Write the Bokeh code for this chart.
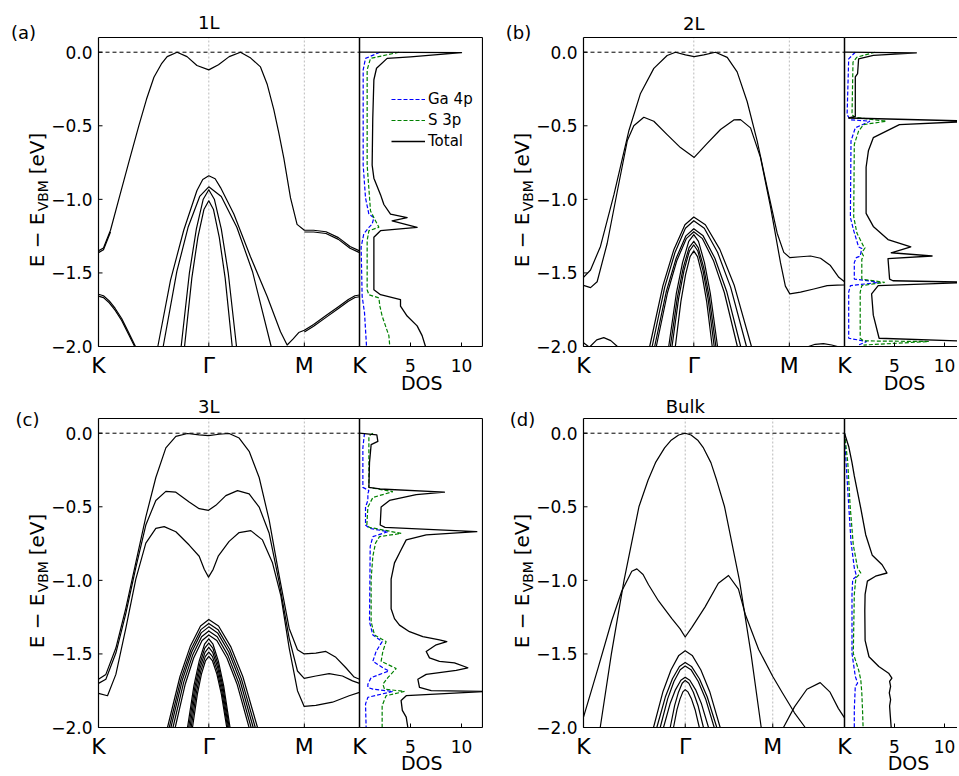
import math
from bokeh.plotting import figure
from bokeh.models import Range1d, Label, Legend, LegendItem
from bokeh.layouts import column, row
from bokeh.embed import file_html
from bokeh.resources import INLINE

FONT = "DejaVu Sans"

# ---------------- axis / label data ----------------
kpath_2d = [0.0, 1.3333, 2.4880, 3.1547]      # K, Gamma, M, K
kpath_bulk = [0.0, 1.2295, 2.2875, 3.1547]
kpath_labels = ["K", "Γ", "M", "K"]
dos_ticks = [5, 10]
energy_ticks = [-2.0, -1.5, -1.0, -0.5, 0.0]
energy_window = [-2.0, 0.1]
panel_tags = ["(a)", "(b)", "(c)", "(d)"]
panel_titles = ["1L", "2L", "3L", "Bulk"]
legend_labels = ["Ga 4p", "S 3p", "Total"]
ylabel_parts = ["E − E", "VBM", "[eV]"]
dos_axis_label = "DOS"

# ---------------- (a) 1L bands  (k, E) ----------------
a_band1 = [(0.000,-1.350),(0.060,-1.330),(0.145,-1.210),(0.250,-0.990),(0.370,-0.740),(0.487,-0.500),
           (0.580,-0.320),(0.670,-0.170),(0.760,-0.080),(0.830,-0.030),(0.950,0.000),(1.070,-0.030),
           (1.190,-0.090),(1.333,-0.120),(1.450,-0.085),(1.580,-0.030),(1.716,0.000),(1.840,-0.040),
           (1.958,-0.100),(2.040,-0.220),(2.119,-0.390),(2.180,-0.550),(2.240,-0.720),(2.321,-0.990),
           (2.400,-1.170),(2.488,-1.210),(2.600,-1.210),(2.750,-1.220),(2.900,-1.260),(3.040,-1.320),
           (3.155,-1.350)]
a_band1b = [(2.488,-1.222),(2.600,-1.222),(2.750,-1.232),(2.900,-1.272),(3.040,-1.332),(3.155,-1.362)]
a_band1c = [(0.000,-1.362),(0.060,-1.342),(0.145,-1.222)]
a_band2 = [(0.000,-1.645),(0.060,-1.655),(0.130,-1.690),(0.200,-1.740),(0.280,-1.810),(0.360,-1.900),
           (0.447,-2.000)]
a_band2b = [(0.000,-1.658),(0.060,-1.668),(0.130,-1.703),(0.200,-1.753),(0.280,-1.823),(0.360,-1.913),
            (0.437,-2.000)]
a_band3 = [(0.717,-2.000),(0.870,-1.550),(1.030,-1.210),(1.190,-0.940),(1.260,-0.865),(1.333,-0.840),
           (1.410,-0.860),(1.475,-0.920),(1.636,-1.100),(1.837,-1.390),(2.039,-1.660),(2.200,-1.900),
           (2.280,-1.990),(2.350,-1.950),(2.420,-1.905),(2.488,-1.890),(2.600,-1.850),(2.750,-1.790),
           (2.900,-1.730),(3.020,-1.680),(3.100,-1.655),(3.155,-1.650)]
a_band3b = [(2.488,-1.902),(2.600,-1.862),(2.750,-1.802),(2.900,-1.742),(3.020,-1.692),(3.100,-1.667),
            (3.155,-1.662)]
a_band4 = [(0.782,-2.000),(0.947,-1.490),(1.085,-1.186),(1.223,-0.980),(1.333,-0.915),(1.484,-0.980),
           (1.672,-1.190),(1.861,-1.490),(2.087,-2.000)]
a_band5 = [(0.999,-2.000),(1.099,-1.499),(1.183,-1.201),(1.266,-0.999),(1.333,-0.935),(1.400,-0.999),
           (1.484,-1.201),(1.568,-1.499),(1.668,-2.000)]
a_band6 = [(1.040,-2.000),(1.128,-1.535),(1.201,-1.258),(1.274,-1.069),(1.333,-1.010),(1.390,-1.069),
           (1.460,-1.258),(1.531,-1.535),(1.616,-2.000)]

# ---------------- (b) 2L bands ----------------
b_band1 = [(0.000,-1.530),(0.085,-1.480),(0.205,-1.320),(0.367,-0.970),(0.550,-0.530),(0.689,-0.280),
           (0.850,-0.110),(1.011,-0.022),(1.112,0.000),(1.233,-0.018),(1.338,-0.030),(1.454,-0.018),
           (1.595,0.000),(1.737,-0.035),(1.857,-0.134),(1.978,-0.335),(2.099,-0.603),(2.220,-0.920),
           (2.341,-1.230),(2.421,-1.360),(2.494,-1.396),(2.623,-1.390),(2.744,-1.385),(2.865,-1.400),
           (2.985,-1.450),(3.086,-1.530),(3.155,-1.560)]
b_band2 = [(0.000,-1.585),(0.085,-1.600),(0.165,-1.560),(0.286,-1.300),(0.407,-0.950),(0.530,-0.600),
           (0.608,-0.500),(0.729,-0.442),(0.850,-0.469),(1.011,-0.560),(1.172,-0.648),(1.338,-0.715),
           (1.495,-0.620),(1.656,-0.525),(1.817,-0.460),(1.898,-0.458),(2.019,-0.514),(2.139,-0.715),
           (2.260,-1.050),(2.381,-1.430),(2.440,-1.590),(2.494,-1.642),(2.623,-1.630),(2.784,-1.609),
           (2.945,-1.586),(3.066,-1.583),(3.155,-1.582)]
b_band3 = [(0.080,-2.000),(0.160,-1.955),(0.245,-1.940),(0.330,-1.960),(0.410,-2.000)]
b_band4 = [(0.000,-1.975),(0.060,-2.000)]
b_band5 = [(2.720,-2.000),(2.800,-1.985),(2.900,-1.980),(3.000,-1.990),(3.070,-2.000)]
b_band6 = [(0.800,-2.0),(0.960,-1.586),(1.093,-1.340),(1.226,-1.173),(1.333,-1.120),(1.473,-1.173),
           (1.648,-1.340),(1.823,-1.586),(2.030,-2.0)]
b_band7 = [(0.830,-2.0),(0.981,-1.598),(1.107,-1.359),(1.232,-1.196),(1.333,-1.145),(1.460,-1.196),
           (1.620,-1.359),(1.779,-1.598),(1.970,-2.0)]
b_band8 = [(0.860,-2.0),(1.002,-1.624),(1.120,-1.400),(1.238,-1.248),(1.333,-1.200),(1.446,-1.248),
           (1.588,-1.400),(1.730,-1.624),(1.900,-2.0)]
b_band9 = [(0.880,-2.0),(1.016,-1.633),(1.129,-1.415),(1.242,-1.267),(1.333,-1.220),(1.438,-1.267),
           (1.570,-1.415),(1.702,-1.633),(1.860,-2.0)]
b_band10 = [(1.030,-2.0),(1.121,-1.643),(1.197,-1.430),(1.272,-1.286),(1.333,-1.240),(1.390,-1.286),
            (1.462,-1.430),(1.534,-1.643),(1.620,-2.0)]
b_band11 = [(1.050,-2.0),(1.135,-1.664),(1.206,-1.464),(1.276,-1.328),(1.333,-1.285),(1.386,-1.328),
            (1.453,-1.464),(1.520,-1.664),(1.600,-2.0)]
b_band12 = [(1.070,-2.0),(1.149,-1.676),(1.215,-1.483),(1.280,-1.351),(1.333,-1.310),(1.382,-1.351),
            (1.444,-1.483),(1.506,-1.676),(1.580,-2.0)]
b_band13 = [(1.110,-2.0),(1.177,-1.695),(1.233,-1.513),(1.288,-1.389),(1.333,-1.350),(1.378,-1.389),
            (1.433,-1.513),(1.489,-1.695),(1.556,-2.0)]

# ---------------- (c) 3L bands ----------------
c_band1 = [(0.000,-1.672),(0.089,-1.639),(0.210,-1.460),(0.330,-1.190),(0.451,-0.880),(0.572,-0.569),
           (0.693,-0.301),(0.814,-0.100),(0.935,-0.022),(1.076,-0.002),(1.217,-0.011),(1.330,-0.016),
           (1.458,-0.007),(1.579,-0.002),(1.700,-0.033),(1.821,-0.123),(1.942,-0.301),(2.063,-0.591),
           (2.184,-0.970),(2.305,-1.327),(2.405,-1.472),(2.486,-1.500),(2.627,-1.494),(2.748,-1.483),
           (2.869,-1.523),(2.990,-1.594),(3.090,-1.657),(3.155,-1.672)]
c_band2 = [(0.000,-1.700),(0.089,-1.672),(0.210,-1.494),(0.330,-1.226),(0.451,-0.914),(0.572,-0.624),
           (0.693,-0.457),(0.814,-0.395),(0.935,-0.401),(1.096,-0.468),(1.217,-0.513),(1.330,-0.524),
           (1.418,-0.490),(1.539,-0.424),(1.680,-0.390),(1.821,-0.412),(1.942,-0.502),(2.063,-0.680),
           (2.184,-1.014),(2.305,-1.394),(2.405,-1.616),(2.486,-1.666),(2.627,-1.650),(2.788,-1.634),
           (2.949,-1.650),(3.070,-1.683),(3.155,-1.700)]
c_band3 = [(0.000,-1.768),(0.109,-1.784),(0.210,-1.639),(0.330,-1.327),(0.451,-0.992),(0.572,-0.747),
           (0.693,-0.647),(0.794,-0.635),(0.935,-0.670),(1.096,-0.760),(1.217,-0.836),(1.278,-0.925),
           (1.330,-0.978),(1.386,-0.925),(1.447,-0.836),(1.579,-0.735),(1.700,-0.675),(1.841,-0.662),
           (1.982,-0.725),(2.103,-0.881),(2.204,-1.104),(2.305,-1.460),(2.405,-1.750),(2.486,-1.857),
           (2.627,-1.850),(2.828,-1.828),(3.030,-1.784),(3.155,-1.761)]
c_band4 = [(0.834,-2.0),(0.984,-1.655),(1.108,-1.450),(1.233,-1.310),(1.333,-1.266),(1.451,-1.310),
           (1.598,-1.450),(1.745,-1.655),(1.922,-2.0)]
c_band5 = [(0.855,-2.0),(0.998,-1.668),(1.118,-1.470),(1.237,-1.335),(1.333,-1.293),(1.445,-1.335),
           (1.586,-1.470),(1.726,-1.668),(1.895,-2.0)]
c_band6 = [(0.875,-2.0),(1.012,-1.679),(1.127,-1.487),(1.241,-1.357),(1.333,-1.316),(1.440,-1.357),
           (1.575,-1.487),(1.709,-1.679),(1.870,-2.0)]
c_band7 = [(0.900,-2.0),(1.030,-1.692),(1.138,-1.508),(1.246,-1.383),(1.333,-1.344),(1.435,-1.383),
           (1.563,-1.508),(1.691,-1.692),(1.845,-2.0)]
c_band8 = [(0.927,-2.0),(1.049,-1.704),(1.150,-1.528),(1.252,-1.409),(1.333,-1.371),(1.430,-1.409),
           (1.552,-1.528),(1.674,-1.704),(1.820,-2.0)]
c_band9 = [(1.076,-2.0),(1.153,-1.717),(1.217,-1.549),(1.282,-1.434),(1.333,-1.398),(1.384,-1.434),
           (1.449,-1.549),(1.513,-1.717),(1.590,-2.0)]
c_band10 = [(1.090,-2.0),(1.163,-1.731),(1.224,-1.570),(1.284,-1.461),(1.333,-1.427),(1.382,-1.461),
            (1.444,-1.570),(1.506,-1.731),(1.580,-2.0)]
c_band11 = [(1.105,-2.0),(1.173,-1.744),(1.230,-1.592),(1.287,-1.489),(1.333,-1.456),(1.380,-1.489),
            (1.440,-1.592),(1.499,-1.744),(1.570,-2.0)]
c_band12 = [(1.120,-2.0),(1.184,-1.759),(1.237,-1.615),(1.290,-1.518),(1.333,-1.487),(1.378,-1.518),
            (1.435,-1.615),(1.492,-1.759),(1.560,-2.0)]
c_band13 = [(1.136,-2.0),(1.195,-1.773),(1.244,-1.637),(1.294,-1.545),(1.333,-1.516),(1.376,-1.545),
            (1.431,-1.637),(1.485,-1.773),(1.550,-2.0)]

# ---------------- (d) bulk bands ----------------
d_band1 = [(0.202,-2.0),(0.337,-1.5),(0.490,-1.0),(0.670,-0.5),(0.780,-0.32),(0.870,-0.2),(0.980,-0.10),
           (1.055,-0.05),(1.150,-0.012),(1.229,0.0),(1.300,-0.012),(1.385,-0.05),(1.450,-0.10),(1.540,-0.2),
           (1.610,-0.32),(1.705,-0.5),(1.885,-1.0),(2.025,-1.5),(2.148,-2.0)]
d_band2 = [(0.000,-1.930),(0.090,-1.760),(0.181,-1.586),(0.342,-1.273),(0.463,-1.072),(0.584,-0.938),
           (0.645,-0.922),(0.720,-0.960),(0.786,-1.030),(0.907,-1.140),(1.068,-1.260),(1.168,-1.330),
           (1.229,-1.385),(1.310,-1.320),(1.470,-1.180),(1.630,-1.020),(1.753,-0.967),(1.873,-1.060),
           (1.955,-1.230),(2.117,-1.470),(2.288,-1.653),(2.400,-1.760),(2.550,-1.900),(2.680,-2.000)]
d_band3 = [(2.417,-2.000),(2.550,-1.860),(2.700,-1.740),(2.861,-1.695),(2.980,-1.760),(3.080,-1.870),
           (3.155,-1.935)]
d_band4 = [(0.846,-2.0),(0.961,-1.755),(1.057,-1.609),(1.152,-1.510),(1.229,-1.479),(1.314,-1.510),
           (1.419,-1.609),(1.525,-1.755),(1.652,-2.0)]
d_band5 = [(0.886,-2.0),(0.989,-1.793),(1.075,-1.669),(1.160,-1.585),(1.229,-1.559),(1.305,-1.585),
           (1.401,-1.669),(1.496,-1.793),(1.611,-2.0)]
d_band6 = [(0.927,-2.0),(1.018,-1.804),(1.093,-1.687),(1.169,-1.607),(1.229,-1.582),(1.299,-1.607),
           (1.387,-1.687),(1.475,-1.804),(1.580,-2.0)]
d_band7 = [(0.967,-2.0),(1.046,-1.839),(1.111,-1.744),(1.177,-1.679),(1.229,-1.658),(1.285,-1.679),
           (1.356,-1.744),(1.426,-1.839),(1.511,-2.0)]
d_band8 = [(1.048,-2.0),(1.102,-1.850),(1.148,-1.760),(1.193,-1.699),(1.229,-1.680),(1.273,-1.699),
           (1.328,-1.760),(1.384,-1.850),(1.450,-2.0)]
d_band9 = [(1.088,-2.0),(1.130,-1.879),(1.166,-1.807),(1.201,-1.758),(1.229,-1.743),(1.263,-1.758),
           (1.306,-1.807),(1.349,-1.879),(1.400,-2.0)]

# ---------------- DOS (energy, states) ----------------
a_tot_E = [0.0,-0.003,-0.031,-0.042,-0.109,-0.187,-0.45,-0.767,-0.856,-0.968,-1.035,-1.101,-1.124,-1.146,
           -1.190,-1.213,-1.258,-1.45,-1.614,-1.648,-1.681,-1.726,-1.793,-1.860,-1.926,-2.0]
a_tot = [0.0,10.0,5.0,2.71,1.67,1.41,1.30,1.24,1.41,2.06,2.39,3.04,4.67,3.2,5.65,2.06,1.41,1.41,1.41,2.06,
         4.02,4.02,4.67,5.65,6.14,6.47]
a_ga_E = [0.0,-0.042,-0.12,-0.767,-0.99,-1.101,-1.124,-1.168,-1.19,-1.235,-1.324,-1.659,-1.77,-2.0]
a_ga = [2.0,0.59,0.36,0.36,0.59,0.92,1.41,1.24,0.92,0.42,0.16,0.26,0.49,0.69]
a_s_E = [0.0,-0.042,-0.12,-0.767,-1.079,-1.124,-1.19,-1.213,-1.28,-1.614,-1.648,-1.67,-1.726,-1.793,-1.86,
         -1.926,-2.0]
a_s = [3.86,1.08,0.75,0.75,1.08,1.41,1.90,0.92,0.75,0.75,0.92,1.90,2.0,2.22,2.55,2.88,2.97]

b_tot_E = [0.0,-0.004,-0.022,-0.045,-0.145,-0.168,-0.436,-0.447,-0.469,-0.492,-0.581,-0.670,-0.782,-1.095,
           -1.184,-1.273,-1.323,-1.363,-1.385,-1.403,-1.542,-1.553,-1.564,-1.586,-1.642,-1.787,-1.944,-1.966]
b_tot = [0.0,7.19,2.88,1.41,1.31,1.08,1.08,0.42,13.0,5.49,2.88,2.39,2.16,2.16,2.88,4.35,6.63,4.67,8.76,4.35,
         4.51,4.84,13.0,3.37,2.71,2.88,3.46,13.0]
b_ga_E = [0.0,-0.045,-0.425,-0.459,-0.469,-0.514,-0.603,-1.123,-1.212,-1.323,-1.334,-1.385,-1.396,-1.430,
          -1.542,-1.564,-1.586,-1.631,-1.944,-1.966,-1.99]
b_ga = [1.08,0.42,0.26,0.59,2.55,1.08,0.65,0.59,0.92,1.41,1.73,1.57,1.18,0.98,0.98,3.53,0.59,0.42,0.42,2.22,1.41]
b_s_E = [0.0,-0.034,-0.067,-0.425,-0.443,-0.469,-0.492,-0.536,-0.626,-1.118,-1.229,-1.318,-1.329,-1.363,
         -1.385,-1.407,-1.542,-1.564,-1.586,-1.631,-1.944,-1.962,-1.966,-1.99]
b_s = [3.04,1.24,0.85,0.75,1.08,4.18,1.90,1.41,0.98,0.92,1.24,1.90,2.06,1.73,1.90,1.73,1.73,4.02,1.73,1.57,
       1.57,1.90,8.43,1.90]

c_tot_E = [0.0,-0.011,-0.056,-0.078,-0.2,-0.368,-0.379,-0.401,-0.417,-0.457,-0.502,-0.624,-0.640,-0.669,
           -0.691,-0.725,-0.792,-0.814,-0.881,-0.992,-1.193,-1.260,-1.304,-1.349,-1.382,-1.405,-1.416,-1.438,
           -1.483,-1.527,-1.550,-1.561,-1.594,-1.612,-1.639,-1.672,-1.728,-1.750,-1.755,-1.784,-1.817,-1.884,
           -1.929,-2.0]
c_tot = [0.0,1.70,1.80,1.14,0.98,0.92,2.0,8.33,5.56,2.94,2.12,2.03,2.5,11.5,6.54,4.58,4.08,3.92,3.43,3.10,
         3.10,3.43,3.92,4.90,6.21,7.84,8.56,7.52,6.54,6.86,7.84,9.31,10.62,9.48,6.54,5.72,5.88,7.03,12.5,
         4.58,4.08,4.20,4.58,4.74]
c_ga_E = [0.0,-0.100,-0.368,-0.390,-0.410,-0.457,-0.502,-0.624,-0.647,-0.669,-0.703,-0.769,-1.282,-1.371,
          -1.416,-1.483,-1.550,-1.594,-1.616,-1.661,-1.706,-1.728,-1.739,-1.755,-1.795,-1.840,-2.0]
c_ga = [0.49,0.33,0.33,0.92,0.82,0.82,0.59,0.59,1.00,2.78,1.31,1.05,0.98,1.31,2.22,1.63,1.31,2.29,2.88,1.14,
        0.82,0.82,1.31,3.27,0.82,0.59,0.65]
c_s_E = [0.0,-0.020,-0.368,-0.397,-0.437,-0.502,-0.624,-0.640,-0.681,-0.703,-0.747,-0.836,-0.992,-1.282,
         -1.371,-1.416,-1.483,-1.550,-1.599,-1.661,-1.706,-1.739,-1.755,-1.784,-1.851,-2.0]
c_s = [1.31,0.92,0.92,3.27,1.31,0.82,0.72,0.98,4.08,1.96,1.57,1.31,1.14,1.14,1.47,2.61,2.29,2.12,3.60,2.78,
       2.29,2.45,4.41,2.61,2.22,2.22]

d_tot_E = [0.0,-0.09,-0.20,-0.29,-0.51,-0.69,-0.83,-0.894,-0.95,-0.972,-1.005,-1.095,-1.206,-1.408,-1.519,
           -1.586,-1.631,-1.664,-1.687,-1.720,-1.765,-1.810,-1.854,-1.921,-2.0]
d_tot = [0.0,0.42,0.75,0.98,1.63,2.12,2.78,3.76,4.25,3.10,2.29,2.06,2.03,2.06,2.45,3.43,4.41,4.74,4.51,4.61,
         4.48,4.61,4.51,4.58,4.67]
d_ga_E = [0.0,-0.20,-0.49,-0.737,-0.916,-0.972,-0.994,-1.095,-1.497,-1.653,-1.698,-1.720,-1.877,-2.0]
d_ga = [0.0,0.16,0.42,0.65,0.98,1.20,0.82,0.75,0.75,1.08,1.31,1.08,0.98,0.98]
d_s_E = [0.0,-0.20,-0.49,-0.76,-0.916,-0.950,-0.983,-1.095,-1.497,-1.609,-1.676,-1.765,-1.877,-2.0]
d_s = [0.0,0.33,0.56,0.88,1.31,1.63,1.14,0.98,0.88,1.41,1.63,1.73,1.80,1.86]

# ---------------- drawing ----------------
BAND_PX = 261     # width of the band-structure box
FRAME_H = 309     # height of every box
TICK_PX = 4


def lab(p, text, x, y, size, dx=0, dy=0, align="center", baseline="alphabetic", angle=0.0, rng="default"):
    p.add_layout(Label(x=x, y=y, x_offset=dx, y_offset=dy, text=text, angle=angle,
                       x_range_name=rng, text_align=align, text_baseline=baseline,
                       text_font=FONT, text_font_size=size, text_color="black"))


def build_panel(kpath, bands, tot_E, tot, ga_E, ga, s_E, s, tag, title, *, dos_px, dos_scale,
                top, bottom, left, right, closed, tag_dx, tag_dy, title_dy, dos_label_x, dos_label_dy,
                legend_loc=None):
    kmax = kpath[-1]
    bot, topE = energy_window
    xs = BAND_PX / kmax
    ys = FRAME_H / (topE - bot)
    dmax = dos_px / dos_scale
    p = figure(width=left + BAND_PX + dos_px + right, height=top + FRAME_H + bottom,
               x_range=Range1d(-left / xs, (BAND_PX + dos_px + right) / xs),
               y_range=Range1d(bot - bottom / ys, topE + top / ys),
               output_backend="svg", toolbar_location=None,
               x_axis_location=None, y_axis_location=None,
               min_border=0, min_border_left=0, min_border_right=0,
               min_border_top=0, min_border_bottom=0)
    p.extra_x_ranges = {"dos": Range1d(-(left + BAND_PX) / dos_scale, (dos_px + right) / dos_scale)}
    p.xgrid.visible = False
    p.ygrid.visible = False
    p.outline_line_color = None
    p.background_fill_color = "white"
    p.border_fill_color = "white"

    # high-symmetry guide lines and E = 0 reference
    p.segment(x0=kpath[1:3], y0=[bot, bot], x1=kpath[1:3], y1=[topE, topE],
              line_color="#a8a8a8", line_dash="2 2", line_width=0.8)
    p.line([kpath[0], kpath[-1]], [0.0, 0.0], line_color="black", line_dash="4 3", line_width=1)

    # bands
    p.multi_line(xs=[[pt[0] for pt in b] for b in bands], ys=[[pt[1] for pt in b] for b in bands],
                 line_color="black", line_width=1.2, line_join="round")

    # DOS
    r_ga = p.line(ga, ga_E, x_range_name="dos", line_color="blue", line_dash="4 2", line_width=1.2)
    r_s = p.line(s, s_E, x_range_name="dos", line_color="green", line_dash="4 2", line_width=1.2)
    r_t = p.line(tot, tot_E, x_range_name="dos", line_color="black", line_width=1.3, line_join="round")

    # box edges (band part, then DOS part)
    p.multi_line(xs=[[kpath[0], kpath[0]], [kpath[0], kmax], [kpath[0], kmax]],
                 ys=[[bot, topE], [bot, bot], [topE, topE]], line_color="black", line_width=1.2)
    p.line([kmax, kmax], [bot, topE], line_color="black", line_width=1.5)
    ex = [[0, dmax], [0, dmax]]
    ey = [[bot, bot], [topE, topE]]
    if closed:
        ex.append([dmax, dmax])
        ey.append([bot, topE])
    p.multi_line(xs=ex, ys=ey, x_range_name="dos", line_color="black", line_width=1.2)

    # inward ticks
    n = len(energy_ticks)
    p.segment(x0=[kpath[0]] * n, y0=energy_ticks, x1=[kpath[0] + TICK_PX / xs] * n, y1=energy_ticks,
              line_color="black", line_width=1)
    p.segment(x0=kpath, y0=[bot] * len(kpath), x1=kpath, y1=[bot + TICK_PX / ys] * len(kpath),
              line_color="black", line_width=1)
    p.segment(x0=dos_ticks, y0=[bot] * len(dos_ticks), x1=dos_ticks,
              y1=[bot + TICK_PX / ys] * len(dos_ticks), x_range_name="dos",
              line_color="black", line_width=1)

    # tick labels
    for e in energy_ticks:
        txt = ("−" if e < 0 else "") + f"{abs(e):.1f}"
        lab(p, txt, kpath[0], e, "17px", dx=-6, align="right", baseline="middle")
    for k, t in zip(kpath, kpath_labels):
        lab(p, t, k, bot, "22px", dy=-19)
    for d in dos_ticks:
        lab(p, str(d), d, bot, "17px", dy=-19, rng="dos")
    lab(p, dos_axis_label, dos_label_x, bot, "19px", dy=dos_label_dy, rng="dos")

    # panel tag, title, y-axis label with subscript
    lab(p, tag, kpath[0], topE, "18px", dx=tag_dx, dy=tag_dy, baseline="middle")
    lab(p, title, kpath[1], topE, "18px", dy=title_dy, baseline="middle")
    rot = math.pi / 2
    lab(p, ylabel_parts[0], kpath[0], -1.0, "20px", dx=-62, dy=-68, align="left", angle=rot)
    lab(p, ylabel_parts[1], kpath[0], -1.0, "14px", dx=-55.5, dy=-12, align="left", angle=rot)
    lab(p, ylabel_parts[2], kpath[0], -1.0, "20px", dx=-62, dy=25, align="left", angle=rot)

    if legend_loc is not None:
        lg = Legend(items=[LegendItem(label=legend_labels[0], renderers=[r_ga]),
                           LegendItem(label=legend_labels[1], renderers=[r_s]),
                           LegendItem(label=legend_labels[2], renderers=[r_t])],
                    location=legend_loc, border_line_color=None, background_fill_alpha=0,
                    padding=0, margin=0, spacing=3, glyph_width=34, glyph_height=18,
                    label_height=18, label_standoff=3, label_text_font=FONT,
                    label_text_font_size="15px", label_text_color="black")
        p.add_layout(lg)
    return p


bands_a = [a_band1, a_band1b, a_band1c, a_band2, a_band2b, a_band3, a_band3b, a_band4, a_band5, a_band6]
bands_b = [b_band1, b_band2, b_band3, b_band4, b_band5, b_band6, b_band7, b_band8, b_band9, b_band10,
           b_band11, b_band12, b_band13]
bands_c = [c_band1, c_band2, c_band3, c_band4, c_band5, c_band6, c_band7, c_band8, c_band9, c_band10,
           c_band11, c_band12, c_band13]
bands_d = [d_band1, d_band2, d_band3, d_band4, d_band5, d_band6, d_band7, d_band8, d_band9]

fa = build_panel(kpath_2d, bands_a, a_tot_E, a_tot, a_ga_E, a_ga, a_s_E, a_s, panel_tags[0], panel_titles[0],
                 dos_px=123, dos_scale=10.2, top=37, bottom=48, left=98, right=1, closed=True,
                 tag_dx=-75, tag_dy=5, title_dy=15, dos_label_x=6.1, dos_label_dy=-36,
                 legend_loc=(391, 244))
fb = build_panel(kpath_2d, bands_b, b_tot_E, b_tot, b_ga_E, b_ga, b_s_E, b_s, panel_tags[1], panel_titles[1],
                 dos_px=113, dos_scale=10.0, top=37, bottom=48, left=100, right=0, closed=False,
                 tag_dx=-65, tag_dy=5, title_dy=14, dos_label_x=6.0, dos_label_dy=-36)
fc = build_panel(kpath_2d, bands_c, c_tot_E, c_tot, c_ga_E, c_ga, c_s_E, c_s, panel_tags[2], panel_titles[2],
                 dos_px=123, dos_scale=10.2, top=24, bottom=47, left=98, right=1, closed=True,
                 tag_dx=-71, tag_dy=-1, title_dy=12, dos_label_x=6.1, dos_label_dy=-35)
fd = build_panel(kpath_bulk, bands_d, d_tot_E, d_tot, d_ga_E, d_ga, d_s_E, d_s, panel_tags[3], panel_titles[3],
                 dos_px=113, dos_scale=10.0, top=24, bottom=47, left=100, right=0, closed=False,
                 tag_dx=-61, tag_dy=-1, title_dy=12, dos_label_x=6.4, dos_label_dy=-35)

layout = column(row(fa, fb), row(fc, fd))
open("out.html", "w").write(file_html(layout, INLINE))
